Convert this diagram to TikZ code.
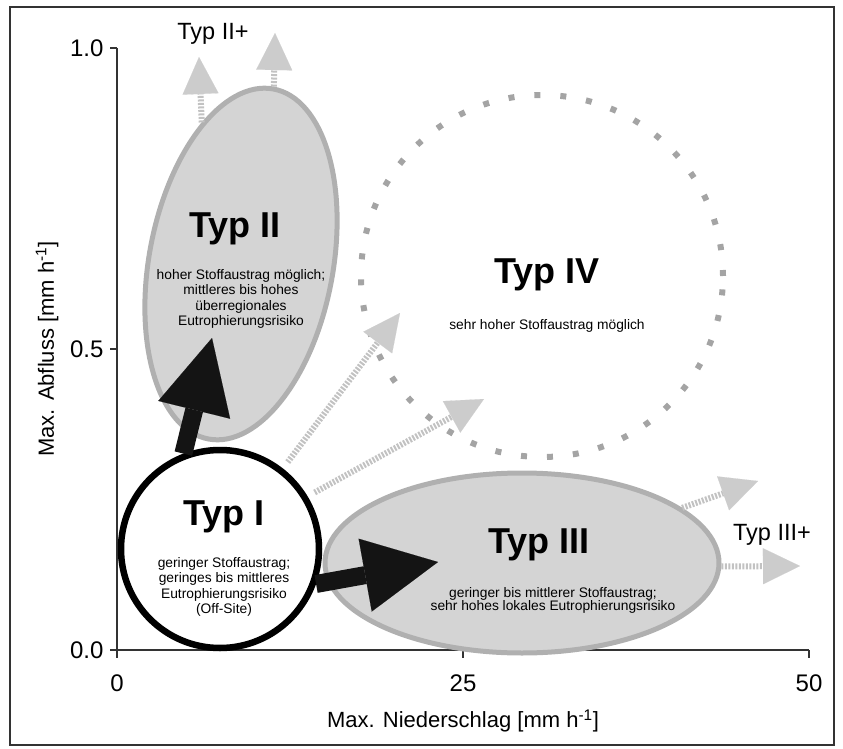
\documentclass[tikz,border=0pt]{standalone}
\usepackage{fontspec}
\setmainfont{Liberation Sans}
\usetikzlibrary{arrows.meta,shapes.geometric}
\definecolor{fillgray}{HTML}{D4D4D4}
\definecolor{rimgray}{HTML}{B0B0B0}
\definecolor{dotgray}{HTML}{A4A4A4}
\definecolor{pathgray}{HTML}{C2C2C2}
\definecolor{headgray}{HTML}{CCCCCC}
\definecolor{inkgray}{HTML}{333333}

\begin{document}
\begin{tikzpicture}[x=1pt, y=-1pt,
  field/.style={ellipse, draw=rimgray, fill=fillgray, line width=5pt, inner sep=0pt},
  typename/.style={anchor=base, font=\fontsize{36}{40}\selectfont\bfseries},
  typtext/.style={anchor=north, inner sep=0pt, align=center, font=\fontsize{13.8}{15.5}\selectfont},
  pluslab/.style={anchor=base, font=\fontsize{23.5}{28}\selectfont},
  ticklab/.style={font=\fontsize{24}{28}\selectfont},
  axislab/.style={font=\fontsize{22}{26}\selectfont},
  jump/.style={-{Triangle[width=36pt, length=37pt, color=headgray, line width=0.1pt]},
    draw=pathgray, line width=6pt, dash pattern=on 2pt off 1.5pt},
  move/.style={-{Triangle[width=74pt, length=74pt, line width=0.1pt]}, draw=black!92, line width=18pt}]
\useasboundingbox (0,0) rectangle (843,749);
\draw[inkgray, line width=1.6pt] (10,7) rectangle (834,745);

\draw[inkgray, line width=1.2pt] (117,48) -- (117,650) -- (809,650);
\foreach \y/\v [count=\i] in {48/1.0, 349/0.5, 650/0.0} {
  \draw[inkgray, line width=1.2pt] (110,\y) -- (117,\y);
  \node[ticklab, anchor=east] (ytick\i) at (107,\y) {\v};
}
\foreach \x/\v [count=\i] in {117/0, 463/25, 809/50} {
  \draw[inkgray, line width=1.2pt] (\x,650) -- (\x,658);
  \node[ticklab] (xtick\i) at (\x,683) {\v};
}
\node[axislab, rotate=90] (ylabel) at (47,349) {Max. Abfluss [mm h\textsuperscript{-1}]};
\node[axislab] (xlabel) at (463,721) {Max. Niederschlag [mm h\textsuperscript{-1}]};

\node[circle, draw=dotgray, line width=6pt, dash pattern=on 6pt off 20pt, minimum size=362pt] (typIV) at (542,276) {};
\node[field, minimum width=184pt, minimum height=356pt, rotate=-10.5] (typII) at (241,264) {};
\node[field, minimum width=394pt, minimum height=180pt] (typIII) at (522,563) {};
\node[circle, draw=black, fill=white, line width=6.5pt, minimum size=198pt] (typI) at (220,549) {};

\coordinate (plusIIa) at (199,57);
\coordinate (plusIIb) at (275,33);
\coordinate (intoIVa) at (400,313);
\coordinate (intoIVb) at (484,399);
\coordinate (plusIIIa) at (758,481);
\coordinate (plusIIIb) at (800,566);
\coordinate (intoII) at (212,338);
\coordinate (intoIII) at (438,562);

\draw[jump] (typII.116) -- (plusIIa);
\draw[jump] (typII.north) -- (plusIIb);
\draw[jump, shorten <=8pt] (typI.52) -- (intoIVa);
\draw[jump, shorten <=8pt] (typI.31.5) -- (intoIVb);
\draw[jump] (typIII.19.5) -- (plusIIIa);
\draw[jump] (typIII.-1) -- (plusIIIb);

\node[typename] (typIname) at (224,525) {Typ I};
\node[typtext] (typItext) at (224,557) {geringer Stoffaustrag;\\geringes bis mittleres\\Eutrophierungsrisiko\\(Off-Site)};
\node[typename] (typIIname) at (235,237) {Typ II};
\node[typtext] (typIItext) at (241,269) {hoher Stoffaustrag möglich;\\mittleres bis hohes\\überregionales\\Eutrophierungsrisiko};
\node[typename] (typIIIname) at (539,553) {Typ III};
\node[typtext, font=\fontsize{13.8}{13.5}\selectfont] (typIIItext) at (553,587) {geringer bis mittlerer Stoffaustrag;\\sehr hohes lokales Eutrophierungsrisiko};
\node[typename] (typIVname) at (547,283) {Typ IV};
\node[typtext] (typIVtext) at (547,319) {sehr hoher Stoffaustrag möglich};
\node[pluslab] (typIIplus) at (213,40) {Typ II+};
\node[pluslab] (typIIIplus) at (772,540) {Typ III+};

\draw[move] (typI.111) -- (intoII);
\draw[move] (typI.-20.6) -- (intoIII);
\end{tikzpicture}
\end{document}
